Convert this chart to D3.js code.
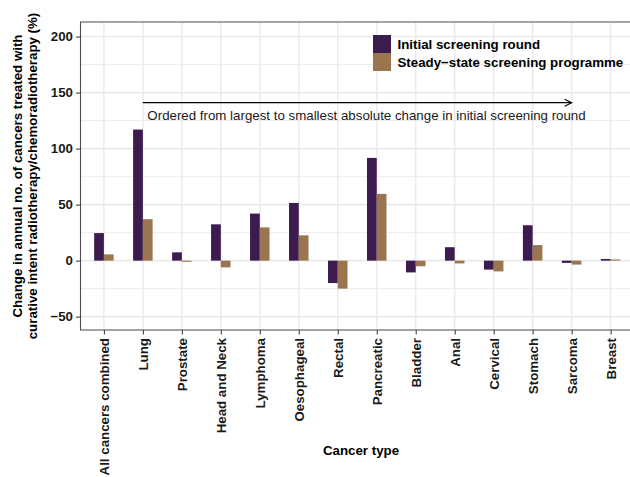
<!DOCTYPE html>
<html>
<head>
<meta charset="utf-8">
<script src="https://cdn.jsdelivr.net/npm/d3@7"></script>
<style>
  html, body { margin: 0; padding: 0; background: #fff; }
  svg { display: block; font-family: "Liberation Sans", Arial, sans-serif; }
</style>
</head>
<body>
<svg id="chart" width="630" height="477"></svg>
<script>
// Cancer types, ordered by absolute change in the initial screening round
const categories = ["All cancers combined", "Lung", "Prostate", "Head and Neck", "Lymphoma",
  "Oesophageal", "Rectal", "Pancreatic", "Bladder", "Anal", "Cervical", "Stomach", "Sarcoma", "Breast"];

// Change in annual number treated with curative intent RT/CRT (%)
const initialRound = [24.6, 117, 7.4, 32.4, 42, 51.5, -20, 91.7, -10.5, 12, -8, 31.6, -2, 1.5];
const steadyState  = [5.6, 37, -1, -6, 29.7, 22.6, -25, 59.6, -5, -2.5, -9.6, 13.9, -3.5, 1];

const seriesNames = ["Initial screening round", "Steady\u2212state screening programme"];
const seriesColors = ["#3c1b4f", "#9a7550"];

const yTicks = [-50, 0, 50, 100, 150, 200];
const yMinorTicks = [-25, 25, 75, 125, 175];

const FS = 13.3;
const svg = d3.select("#chart");
const panel = { left: 80.5, right: 634, top: 22, bottom: 330 };

const x = d3.scalePoint().domain(categories).range([panel.left, panel.right]).padding(0.6);
const y = d3.scaleLinear().domain([-61.9, 213]).range([panel.bottom, panel.top]);
const step = x.step();
const barW = step * 0.25;

const g = svg.append("g");

// grid
g.selectAll("line.minor").data(yMinorTicks).join("line")
  .attr("x1", panel.left).attr("x2", panel.right)
  .attr("y1", d => y(d)).attr("y2", d => y(d))
  .attr("stroke", "#ededed").attr("stroke-width", 1);
g.selectAll("line.major").data(yTicks).join("line")
  .attr("x1", panel.left).attr("x2", panel.right)
  .attr("y1", d => y(d)).attr("y2", d => y(d))
  .attr("stroke", "#ebebeb").attr("stroke-width", 1.6);
g.selectAll("line.vgrid").data(categories).join("line")
  .attr("x1", d => x(d)).attr("x2", d => x(d))
  .attr("y1", panel.top).attr("y2", panel.bottom)
  .attr("stroke", "#ebebeb").attr("stroke-width", 1.6);

// bars
const series = [initialRound, steadyState];
series.forEach((vals, si) => {
  g.append("g").selectAll("rect").data(categories).join("rect")
    .attr("x", (d) => x(d) - barW + si * barW)
    .attr("width", barW)
    .attr("y", (d, i) => y(Math.max(0, vals[i])))
    .attr("height", (d, i) => Math.abs(y(vals[i]) - y(0)))
    .attr("fill", seriesColors[si]);
});

// panel border
g.append("path")
  .attr("d", `M${panel.right},${panel.top}H${panel.left}V${panel.bottom}H${panel.right}`)
  .attr("fill", "none").attr("stroke", "#4d4d4d").attr("stroke-width", 1.1);

// y axis
const yAxis = g.append("g").attr("transform", `translate(${panel.left},0)`)
  .call(d3.axisLeft(y).tickValues(yTicks).tickSize(4.5).tickPadding(3).tickFormat(d => d < 0 ? "\u2212" + Math.abs(d) : d));
yAxis.select(".domain").remove();
yAxis.selectAll("line").attr("stroke", "#333");
yAxis.selectAll("text").attr("font-size", FS).attr("font-weight", "bold").attr("fill", "#1a1a1a")
  .attr("font-family", "Liberation Sans, Arial, sans-serif");

// x axis
const xAxis = g.append("g").attr("transform", `translate(0,${panel.bottom})`)
  .call(d3.axisBottom(x).tickSize(4.5).tickPadding(3));
xAxis.select(".domain").remove();
xAxis.selectAll("line").attr("stroke", "#333");
xAxis.selectAll("text")
  .attr("font-size", FS).attr("font-weight", "bold").attr("fill", "#1a1a1a")
  .attr("font-family", "Liberation Sans, Arial, sans-serif")
  .attr("transform", "rotate(-90)")
  .attr("text-anchor", "end")
  .attr("x", -8).attr("y", 0).attr("dy", "0.35em");

// axis titles
svg.append("text")
  .attr("x", 361).attr("y", 455)
  .attr("text-anchor", "middle").attr("font-size", FS).attr("font-weight", "bold").attr("fill", "#000")
  .text("Cancer type");

const yTitle = svg.append("text")
  .attr("transform", `translate(0,${(panel.top + panel.bottom) / 2}) rotate(-90)`)
  .attr("text-anchor", "middle").attr("font-size", FS).attr("font-weight", "bold").attr("fill", "#000");
yTitle.append("tspan").attr("x", 0).attr("y", 22).text("Change in annual no. of cancers treated with");
yTitle.append("tspan").attr("x", 0).attr("y", 37).text("curative intent radiotherapy/chemoradiotherapy (%)");

// ordering arrow
const arrowY = y(141);
const x0 = x("Lung"), x1 = x("Sarcoma");
g.append("line").attr("x1", x0).attr("x2", x1).attr("y1", arrowY).attr("y2", arrowY)
  .attr("stroke", "#000").attr("stroke-width", 1.1);
g.append("path")
  .attr("d", `M${x1 - 7},${arrowY - 3.5}L${x1},${arrowY}L${x1 - 7},${arrowY + 3.5}`)
  .attr("fill", "none").attr("stroke", "#000").attr("stroke-width", 1.1);
g.append("text")
  .attr("x", x0 + 4.5).attr("y", arrowY + 17)
  .attr("font-size", FS).attr("fill", "#1a1a1a")
  .text("Ordered from largest to smallest absolute change in initial screening round");

// legend
const legend = svg.append("g").attr("transform", "translate(373,35)");
seriesNames.forEach((name, i) => {
  legend.append("rect").attr("x", 0).attr("y", i * 18).attr("width", 18).attr("height", 18)
    .attr("fill", seriesColors[i]);
  legend.append("text").attr("x", 24.5).attr("y", i * 18 + 9).attr("dy", "0.35em")
    .attr("font-size", FS).attr("font-weight", "bold").attr("fill", "#000").text(name);
});
</script>
</body>
</html>
